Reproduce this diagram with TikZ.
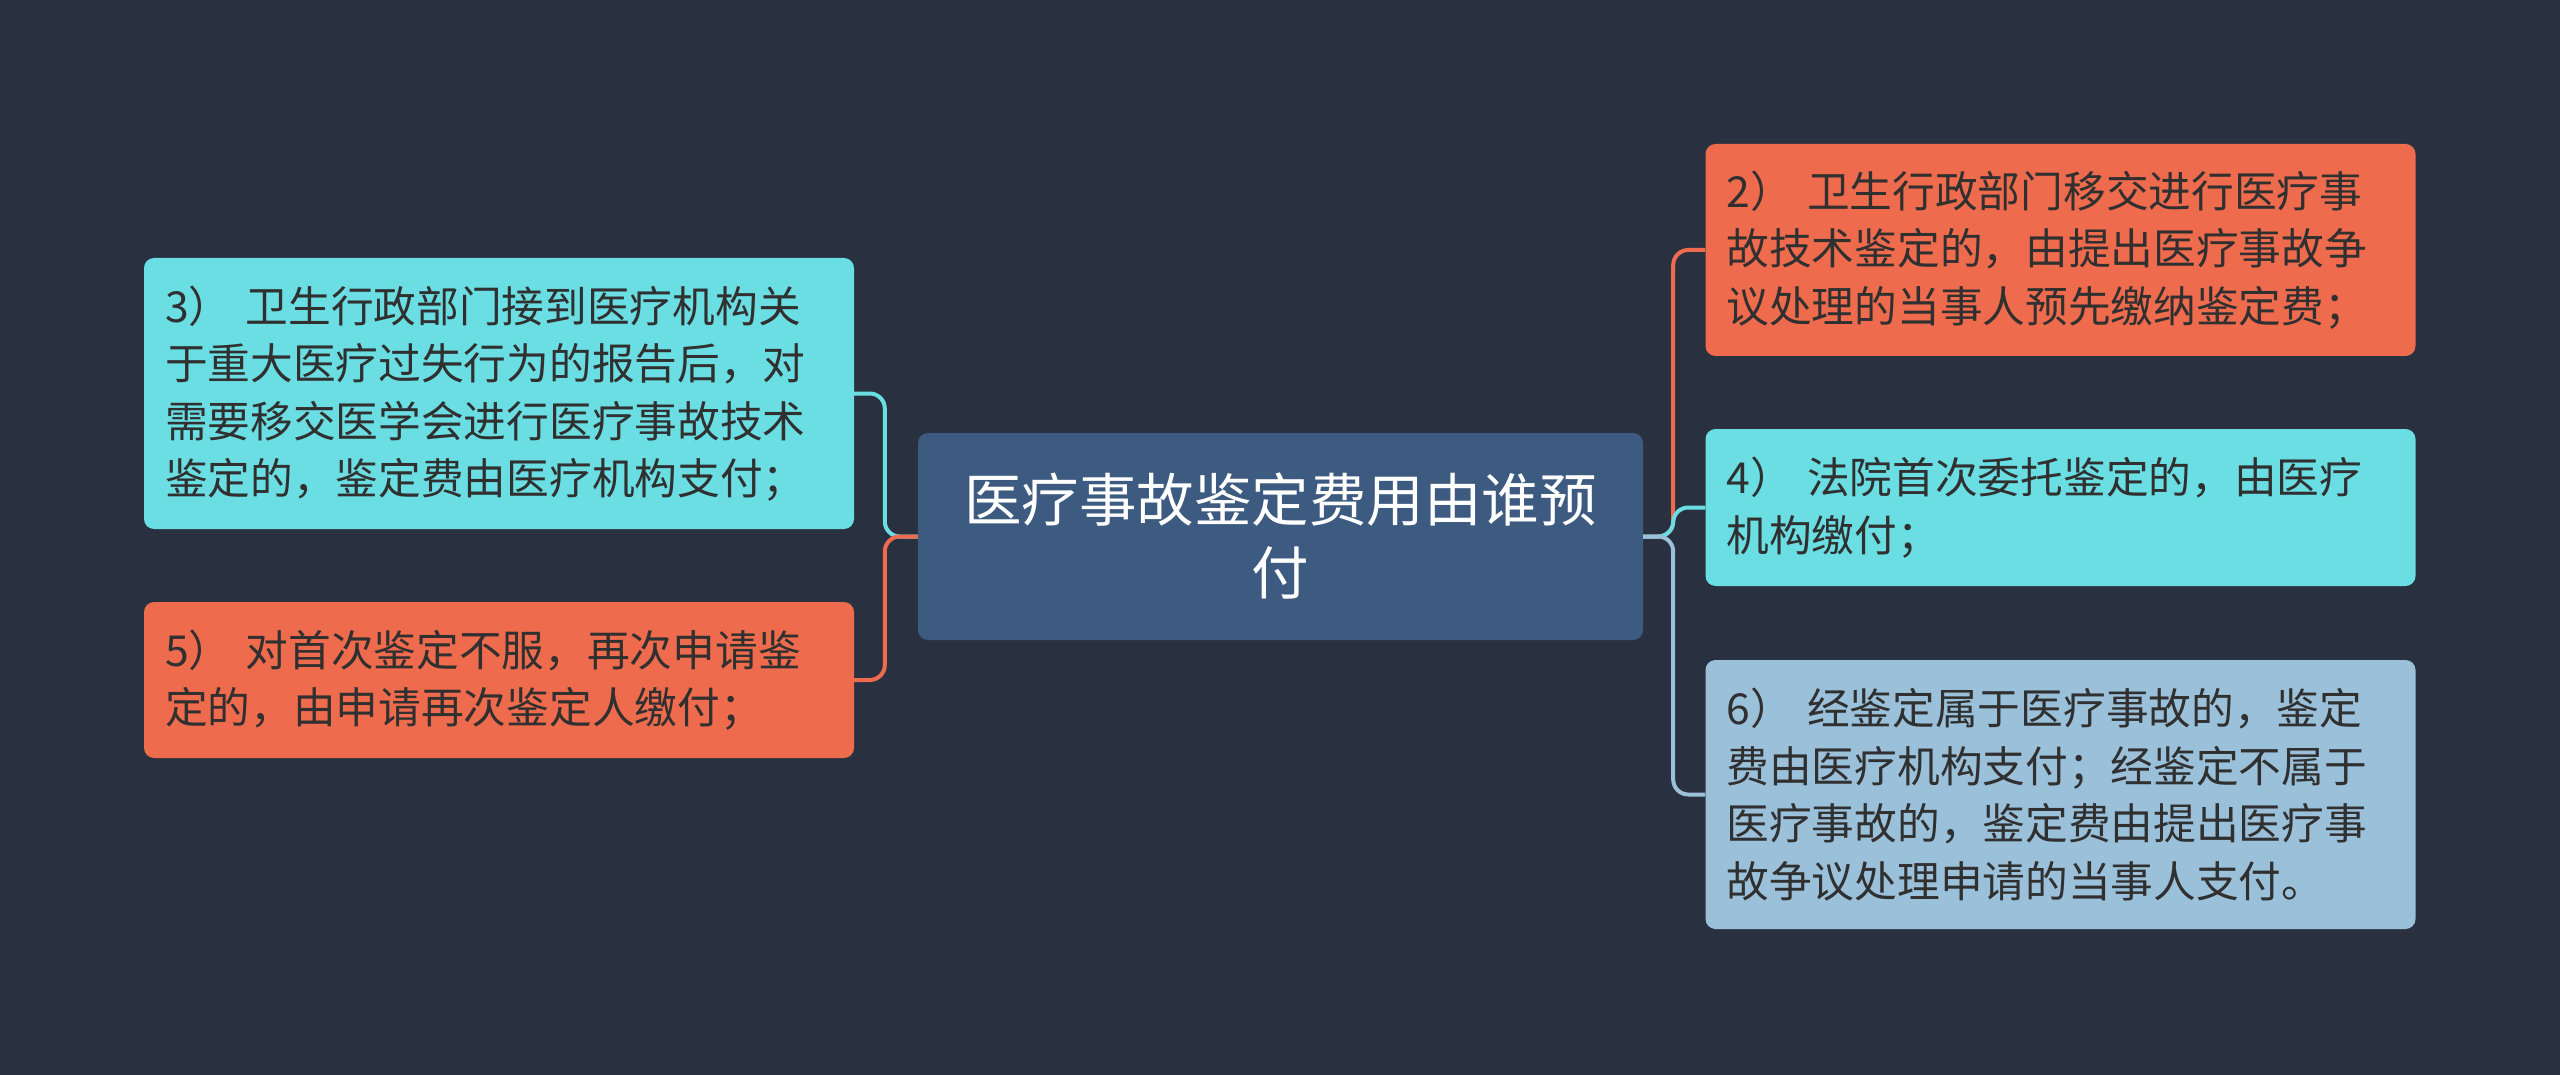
\documentclass[tikz,border=0pt]{standalone}
\usepackage{fontspec}
\setmainfont{Noto Sans CJK SC}
\definecolor{bg}{RGB}{41,49,64}
\definecolor{corange}{RGB}{238,107,77}
\definecolor{ccyan}{RGB}{107,222,227}
\definecolor{clblue}{RGB}{155,192,218}
\definecolor{ccenter}{RGB}{61,90,128}
\definecolor{ctxt}{RGB}{48,48,48}
\tikzset{
  childbox/.style={rounded corners=10pt, minimum width=710pt, inner xsep=21pt, inner ysep=0pt,
    text width=668pt, align=left, font=\fontsize{42.7}{57.5}\selectfont, text=ctxt},
  centerbox/.style={rounded corners=10pt, minimum width=725pt, minimum height=207pt, inner sep=0pt,
    text width=700pt, align=center, font=\fontsize{57.5}{73}\selectfont, text=white, fill=ccenter},
  conn/.style={line width=4pt, rounded corners=15pt}
}
\begin{document}
\begin{tikzpicture}[x=1pt,y=-1pt]
\useasboundingbox[fill=bg] (0,0) rectangle (2560,1075);

\node[centerbox] (c) at (1280.5,536.5) {医疗事故鉴定费用由谁预\\付};

\node[childbox, fill=ccyan, minimum height=271pt] (n3) at (499,393.5)
  {3）\ 卫生行政部门接到医疗机构关\\于重大医疗过失行为的报告后，对\\需要移交医学会进行医疗事故技术\\鉴定的，鉴定费由医疗机构支付；};
\node[childbox, fill=corange, minimum height=156pt] (n5) at (499,680)
  {5）\ 对首次鉴定不服，再次申请鉴\\定的，由申请再次鉴定人缴付；};

\node[childbox, fill=corange, minimum height=212pt] (n2) at (2060.5,250)
  {2）\ 卫生行政部门移交进行医疗事\\故技术鉴定的，由提出医疗事故争\\议处理的当事人预先缴纳鉴定费；};
\node[childbox, fill=ccyan, minimum height=157pt] (n4) at (2060.5,507.5)
  {4）\ 法院首次委托鉴定的，由医疗\\机构缴付；};
\node[childbox, fill=clblue, minimum height=269pt] (n6) at (2060.5,794.5)
  {6）\ 经鉴定属于医疗事故的，鉴定\\费由医疗机构支付；经鉴定不属于\\医疗事故的，鉴定费由提出医疗事\\故争议处理申请的当事人支付。};

\draw[conn, draw=ccyan] (c.west) -- ([xshift=-33pt]c.west) |- (n3.east);
\draw[conn, draw=corange] (c.west) -- ([xshift=-33pt]c.west) |- (n5.east);
\draw[conn, draw=corange] (c.east) -- ([xshift=30pt]c.east) |- (n2.west);
\draw[conn, draw=ccyan] (c.east) -- ([xshift=30pt]c.east) |- (n4.west);
\draw[conn, draw=clblue] (c.east) -- ([xshift=30pt]c.east) |- (n6.west);
\end{tikzpicture}
\end{document}
